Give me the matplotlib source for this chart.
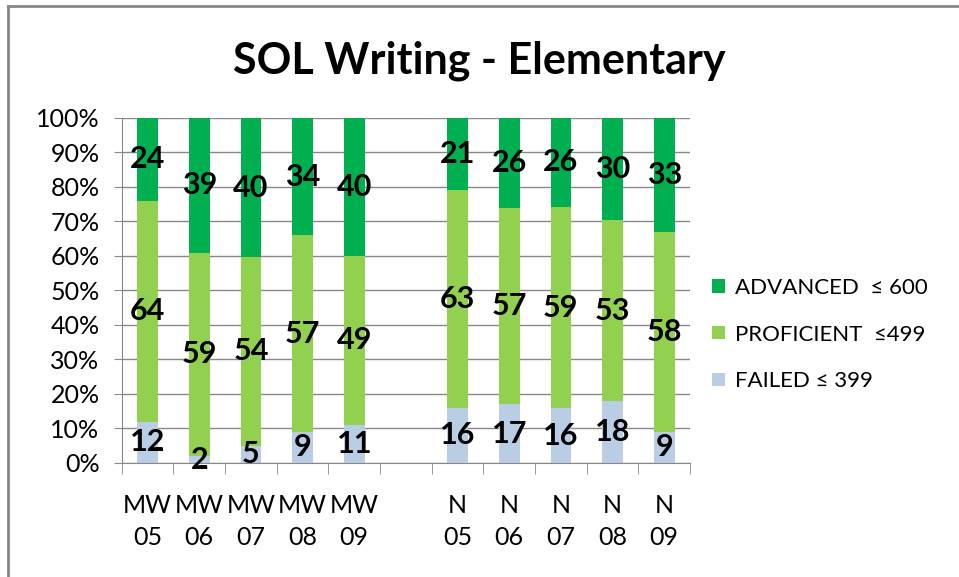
import matplotlib.pyplot as plt
from matplotlib.lines import Line2D
from matplotlib.patches import Patch

plt.rcParams["font.family"] = ["Lato", "DejaVu Sans"]

# ======================
# DATA
# ======================
schools = ["MW\n05", "MW\n06", "MW\n07", "MW\n08", "MW\n09",
           "N\n05", "N\n06", "N\n07", "N\n08", "N\n09"]
failed = [12, 2, 5, 9, 11, 16, 17, 16, 18, 9]
proficient = [64, 59, 54, 57, 49, 63, 57, 59, 53, 58]
advanced = [24, 39, 40, 34, 40, 21, 26, 26, 30, 33]

series_names = ["FAILED \u2264 399", "PROFICIENT  \u2264499", "ADVANCED  \u2264 600"]
colors = ["#B9CDE5", "#92D050", "#00B050"]

# blank slot between the two school groups
xpos = [0, 1, 2, 3, 4, 6, 7, 8, 9, 10]

# ======================
# FIGURE
# ======================
fig = plt.figure(figsize=(9.59, 5.77), dpi=100)
ax = fig.add_axes([0.127, 0.1976, 0.5925, 0.598])

totals = [f + p + a for f, p, a in zip(failed, proficient, advanced)]
bottom = [0.0] * len(xpos)
for vals, col in zip([failed, proficient, advanced], colors):
    frac = [v / t for v, t in zip(vals, totals)]
    ax.bar(xpos, frac, bottom=bottom, width=0.4, color=col, zorder=2)
    for x, b, f, v in zip(xpos, bottom, frac, vals):
        ax.text(x, b + f / 2, str(v), ha="center", va="center",
                fontsize=22, fontweight="bold", color="black", zorder=3)
    bottom = [b + f for b, f in zip(bottom, frac)]

ax.set_xlim(-0.5, 10.5)
ax.set_ylim(0, 1)
ax.set_yticks([i / 10 for i in range(11)])
ax.set_yticklabels([f"{i * 10}%" for i in range(11)], fontsize=18)
ax.yaxis.grid(True, color="#888888", linewidth=1, zorder=0)
ax.tick_params(axis="y", length=6, color="#888888", pad=10)

ax.set_xticks(xpos)
ax.set_xticklabels(schools, fontsize=18, linespacing=1.5)
ax.set_xticks([i - 0.5 for i in range(12)], minor=True)
ax.tick_params(axis="x", which="major", length=0, pad=22)
ax.tick_params(axis="x", which="minor", length=8, color="#888888")

for s in ["top", "right"]:
    ax.spines[s].set_visible(False)
for s in ["left", "bottom"]:
    ax.spines[s].set_color("#888888")

fig.text(0.5, 0.895, "SOL Writing - Elementary", ha="center", va="center",
         fontsize=31, fontweight="bold")

handles = [Patch(facecolor=c) for c in colors][::-1]
fig.legend(handles, series_names[::-1], loc="center left",
           bbox_to_anchor=(0.722, 0.42), frameon=False, fontsize=16,
           handlelength=0.55, handleheight=0.55, handletextpad=0.45,
           labelspacing=1.2)

# chart border (top and left edges visible)
fig.add_artist(Line2D([0.0085, 1.0], [0.9896, 0.9896], color="#888888", lw=2))
fig.add_artist(Line2D([0.0085, 0.0085], [0.0, 0.9896], color="#888888", lw=2))

fig.savefig("out.png", dpi=100)
